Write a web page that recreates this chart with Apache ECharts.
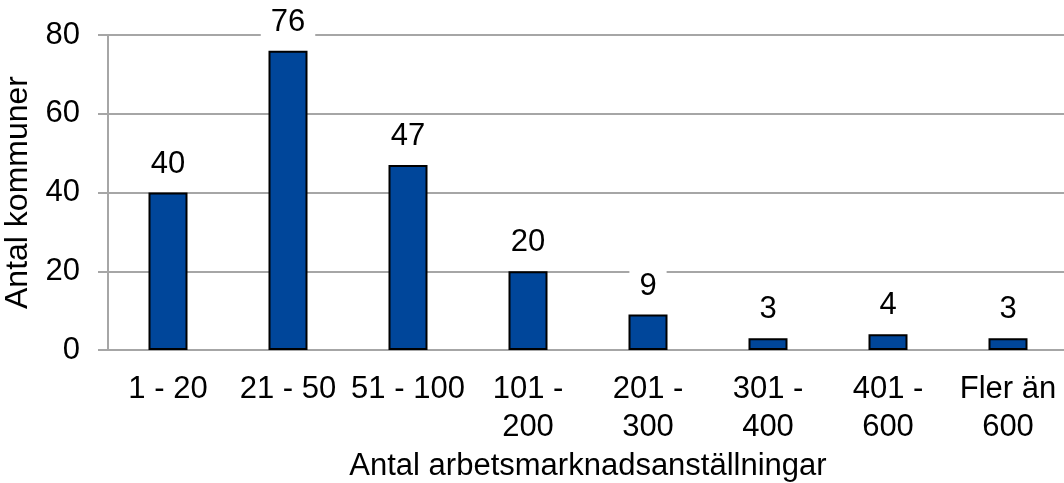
<!DOCTYPE html>
<html>
<head>
<meta charset="utf-8">
<script src="https://cdn.jsdelivr.net/npm/echarts@6/dist/echarts.min.js"></script>
<style>
  html, body { margin: 0; padding: 0; background: #fff; }
  #chart { width: 1064px; height: 483px; }
</style>
</head>
<body>
<div id="chart"></div>
<script>
var categories = ['1 - 20', '21 - 50', '51 - 100', '101 -\n200', '201 -\n300', '301 -\n400', '401 -\n600', 'Fler än\n600'];
var values = [40, 76, 47, 20, 9, 3, 4, 3];
var yTicks = { min: 0, max: 80, interval: 20 };

var font = 'Liberation Sans, Arial, sans-serif';
var gray = '#a6a6a6';

var chart = echarts.init(document.getElementById('chart'));
chart.setOption({
  animation: false,
  grid: { left: 108, top: 35, width: 960, height: 315, containLabel: false, outerBoundsMode: 'none' },
  xAxis: {
    type: 'category',
    data: categories,
    name: 'Antal arbetsmarknadsanställningar',
    nameLocation: 'middle',
    nameGap: 101,
    nameMoveOverlap: false,
    nameTextStyle: { fontFamily: font, fontSize: 31, color: '#000' },
    axisLine: { lineStyle: { color: gray, width: 2 } },
    axisTick: { length: 8, lineStyle: { color: gray, width: 2 } },
    axisLabel: { fontFamily: font, fontSize: 31, color: '#000', margin: 20, lineHeight: 38, interval: 0 }
  },
  yAxis: {
    type: 'value',
    min: yTicks.min,
    max: yTicks.max,
    interval: yTicks.interval,
    name: 'Antal kommuner',
    nameLocation: 'middle',
    nameGap: 67,
    nameTextStyle: { fontFamily: font, fontSize: 32, color: '#000' },
    axisLine: { show: true, lineStyle: { color: gray, width: 2 } },
    axisTick: { show: true, length: 10, lineStyle: { color: gray, width: 2 } },
    splitLine: { lineStyle: { color: gray, width: 2 } },
    axisLabel: { fontFamily: font, fontSize: 31, color: '#000', margin: 28 }
  },
  series: [{
    type: 'bar',
    data: values,
    barWidth: 39,
    itemStyle: { color: '#00469a', borderColor: '#000', borderWidth: 2 },
    label: {
      show: true,
      position: 'top',
      distance: 13,
      fontFamily: font,
      fontSize: 31,
      color: '#000',
      backgroundColor: '#fff',
      padding: [0, 10]
    }
  }]
});
</script>
</body>
</html>
